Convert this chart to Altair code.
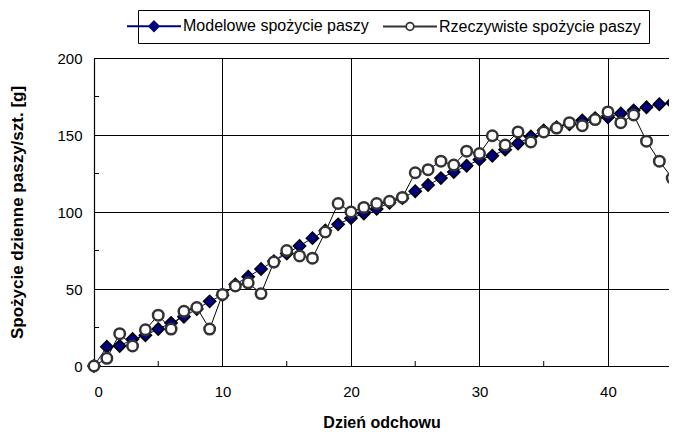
import altair as alt
import pandas as pd

days = list(range(0, 47))
model = [0, 12.5, 13, 17.5, 20, 24, 28, 32, 37, 42, 46,
         53, 58, 63, 68, 73, 78, 83, 88, 92, 96,
         99, 102, 106, 109, 113.5, 117.5, 122, 126, 130, 134,
         136.5, 140.5, 144.5, 149, 153, 155, 157, 159.5, 161, 161.5,
         164, 166, 168, 170, 171, 172]
actual = [0, 5, 21, 13, 23.5, 33, 24, 35.5, 38, 24, 46.5,
          52, 54, 47, 67.5, 75, 71.5, 70, 87, 105.5, 100,
          103, 105.5, 107, 109.5, 125.5, 127.5, 133, 130.5, 139.5, 138,
          149.5, 143.5, 152, 145.5, 152, 154.5, 158, 156, 160, 165,
          158, 163, 146, 133, 122, 113]
series_names = ["Modelowe spożycie paszy", "Rzeczywiste spożycie paszy"]
x_major = [0, 10, 20, 30, 40]
x_minor = [5, 15, 25, 35]
y_major = [0, 50, 100, 150, 200]
y_minor = [25, 75, 125, 175]

W, H = 575, 308
XMAX = 44.75
FONT = "Liberation Sans"

df_m = pd.DataFrame({"day": days, "val": model})
df_a = pd.DataFrame({"day": days, "val": actual})
df_leg = pd.DataFrame({"day": [-50, -50], "val": [100, 100], "series": series_names})

xs = alt.Scale(domain=[0, XMAX], nice=False, zero=False)
ys = alt.Scale(domain=[0, 200], nice=False)

xax = alt.Axis(values=x_major, grid=True, gridColor="black", gridOpacity=1, gridWidth=1,
               ticks=False, domainColor="black", domainWidth=1.2, labelFontSize=15,
               labelFont=FONT, labelColor="black", labelPadding=18,
               title="Dzień odchowu", titleFont=FONT, titleFontSize=16, titleFontWeight="bold",
               titleColor="black", titlePadding=15)
yax = alt.Axis(values=y_major, grid=True, gridColor="black", gridOpacity=1, gridWidth=1,
               ticks=False, domainColor="black", domainWidth=1.2, labelFontSize=15,
               labelFont=FONT, labelColor="black", labelPadding=12,
               title="Spożycie dzienne paszy/szt. [g]", titleFont=FONT, titleFontSize=17,
               titleFontWeight="bold", titleColor="black", titlePadding=30)

base_x = alt.X("day:Q", scale=xs, axis=xax)
base_y = alt.Y("val:Q", scale=ys, axis=yax)

line_m = alt.Chart(df_m).mark_line(color="#000080", strokeWidth=1, clip=False).encode(x=base_x, y=base_y)
line_a = alt.Chart(df_a).mark_line(color="black", strokeWidth=1, clip=False).encode(x="day:Q", y="val:Q")
pts_m = alt.Chart(df_m).mark_point(shape="diamond", filled=True, fill="#000080", stroke="black",
                                   strokeWidth=1.5, size=150, opacity=1, clip=False).encode(x="day:Q", y="val:Q")
pts_a = alt.Chart(df_a).mark_point(shape="circle", filled=True, fill="white", stroke="#333333",
                                   strokeWidth=2.5, size=110, opacity=1, clip=False).encode(x="day:Q", y="val:Q")

minor_x = alt.Chart(pd.DataFrame({"t": x_minor})).mark_rule(color="black", strokeWidth=1).encode(
    x=alt.X("t:Q", scale=xs), y=alt.value(H - 5), y2=alt.value(H))
minor_y = alt.Chart(pd.DataFrame({"t": y_minor})).mark_rule(color="black", strokeWidth=1).encode(
    y=alt.Y("t:Q", scale=ys), x=alt.value(0), x2=alt.value(5))

path_m = "M-6,0H6M0,-1.1L1.1,0L0,1.1L-1.1,0Z"
path_a = "M-6,0H-0.85M0.85,0H6M0.85,0A0.85,0.85 0 1 1 -0.85,0A0.85,0.85 0 1 1 0.85,0Z"

leg = alt.Chart(df_leg).mark_point(filled=True, opacity=1, clip=True, size=81).encode(
    x="day:Q", y="val:Q",
    shape=alt.Shape("series:N", scale=alt.Scale(domain=series_names, range=[path_m, path_a]),
                    legend=alt.Legend(title=None, orient="none", legendX=44, legendY=-48,
                                      direction="horizontal", strokeColor="black", fillColor="white",
                                      padding=8, labelFont=FONT, labelFontSize=16, labelColor="black",
                                      labelOffset=21, labelLimit=0, columnPadding=10,
                                      symbolStrokeWidth=1.8, symbolSize=81)),
    fill=alt.Fill("series:N", scale=alt.Scale(domain=series_names, range=["#000080", "white"])),
    stroke=alt.Stroke("series:N", scale=alt.Scale(domain=series_names, range=["#000080", "#333333"])),
)

chart = alt.layer(minor_x, minor_y, line_m, line_a, pts_m, pts_a, leg).properties(
    width=W, height=H,
    autosize=alt.AutoSizeParams(type="none"),
    padding={"left": 86, "top": 50, "right": 0, "bottom": 66},
).configure_view(stroke=None).configure(background="white")

chart.save("out.html", embed_options={"renderer": "svg", "actions": False})
